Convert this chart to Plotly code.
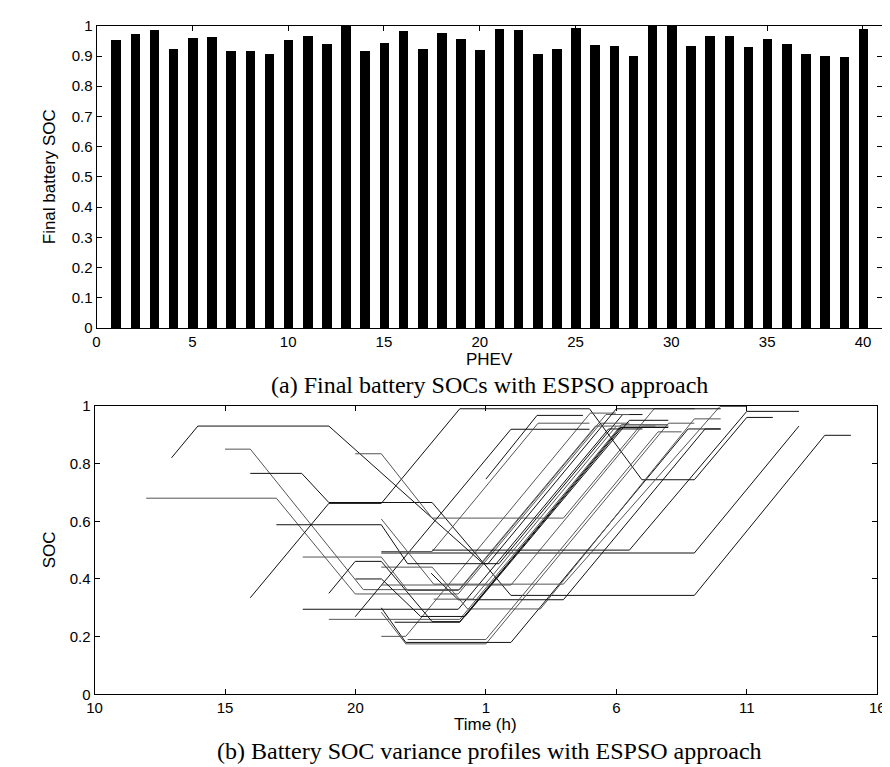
import plotly.graph_objects as go

# ---------------- data: panel (a) ----------------
phev_ids = list(range(1, 41))
final_soc = [0.955, 0.973, 0.987, 0.923, 0.959, 0.962, 0.918, 0.918, 0.908, 0.955,
             0.967, 0.941, 1.000, 0.918, 0.944, 0.982, 0.923, 0.978, 0.956, 0.920,
             0.991, 0.988, 0.908, 0.923, 0.994, 0.937, 0.933, 0.901, 1.000, 1.000,
             0.935, 0.967, 0.967, 0.930, 0.956, 0.941, 0.906, 0.901, 0.898, 0.991]
a_xticks = [0, 5, 10, 15, 20, 25, 30, 35, 40]
a_yticks = [0, 0.1, 0.2, 0.3, 0.4, 0.5, 0.6, 0.7, 0.8, 0.9, 1]
a_yticklabels = ["0", "0.1", "0.2", "0.3", "0.4", "0.5", "0.6", "0.7", "0.8", "0.9", "1"]

# ---------------- data: panel (b) (hour, SOC) breakpoints ----------------
ev01 = [(12.95, 0.82), (13.96, 0.93), (18.98, 0.93), (24.9, 0.453), (25.5, 0.453), (30.24, 0.97), (31.0, 0.97)]
ev02 = [(15.0, 0.85), (15.97, 0.85), (20.3, 0.363), (24.0, 0.363), (29.6, 0.97), (30.5, 0.97)]
ev03 = [(15.97, 0.766), (17.94, 0.766), (18.98, 0.665), (22.94, 0.665), (25.96, 0.343), (32.99, 0.343), (37.99, 0.898), (38.99, 0.898)]
ev04 = [(11.98, 0.68), (16.97, 0.68), (19.99, 0.348), (23.94, 0.348), (29.4, 0.94), (30.5, 0.94)]
ev05 = [(15.97, 0.335), (18.98, 0.662), (20.99, 0.662), (24.0, 0.99), (28.97, 0.99), (30.98, 0.744), (32.99, 0.744), (35.0, 0.96), (36.0, 0.96)]
ev06 = [(19.99, 0.834), (20.99, 0.834), (22.94, 0.611), (27.97, 0.611), (31.45, 0.99), (33.0, 0.99)]
ev07 = [(20.99, 0.49), (32.99, 0.49), (37.0, 0.93)]
ev08 = [(20.99, 0.285), (21.93, 0.175), (25.0, 0.175), (32.0, 0.94), (32.99, 0.94)]
ev09 = [(20.99, 0.30), (21.93, 0.18), (25.96, 0.18), (32.75, 0.92), (34.0, 0.92)]
ev10 = [(18.98, 0.26), (24.0, 0.26), (30.2, 0.935), (31.99, 0.935)]
ev11 = [(18.98, 0.35), (19.99, 0.461), (20.99, 0.461), (22.94, 0.252), (24.0, 0.252), (30.15, 0.925), (31.5, 0.925)]
ev12 = [(20.99, 0.201), (21.93, 0.201), (29.0, 0.975), (29.98, 0.975)]
ev13 = [(17.98, 0.295), (23.94, 0.295), (29.7, 0.92), (31.0, 0.92)]
ev14 = [(20.99, 0.441), (22.94, 0.441), (24.3, 0.296), (27.09, 0.296), (32.99, 0.955), (34.0, 0.955)]
ev15 = [(19.99, 0.269), (25.96, 0.919), (28.97, 0.919)]
ev16 = [(20.99, 0.379), (25.96, 0.379), (31.0, 0.93), (32.0, 0.93)]
ev17 = [(22.9, 0.42), (23.94, 0.328), (27.97, 0.328), (33.4, 0.92), (34.0, 0.92)]
ev18 = [(20.99, 0.608), (23.0, 0.382), (27.97, 0.382), (33.97, 0.998), (35.0, 0.998)]
ev19 = [(16.97, 0.588), (20.99, 0.588), (22.0, 0.453), (25.08, 0.453), (30.0, 0.99), (34.0, 0.99)]
ev20 = [(20.99, 0.495), (22.94, 0.495), (27.0, 0.94), (28.97, 0.94)]
ev21 = [(25.0, 0.746), (26.96, 0.967), (28.72, 0.967)]
ev22 = [(17.98, 0.476), (20.99, 0.476), (22.0, 0.36), (23.94, 0.36), (29.2, 0.93), (30.0, 0.93)]
ev23 = [(22.94, 0.50), (30.5, 0.50), (35.0, 0.981), (37.0, 0.981)]
ev24 = [(22.0, 0.19), (25.0, 0.19), (31.6, 0.91), (32.5, 0.91)]
ev25 = [(21.5, 0.25), (24.0, 0.25), (30.2, 0.925), (31.99, 0.925)]
ev26 = [(23.0, 0.33), (24.5, 0.33), (30.0, 0.93), (31.5, 0.93)]
ev27 = [(20.0, 0.40), (21.0, 0.40), (22.5, 0.27), (24.2, 0.27), (30.5, 0.95), (31.99, 0.95)]
profiles = [ev01, ev02, ev03, ev04, ev05, ev06, ev07, ev08, ev09, ev10, ev11, ev12, ev13, ev14,
            ev15, ev16, ev17, ev18, ev19, ev20, ev21, ev22, ev23, ev24, ev25, ev26, ev27]
line_colors = ["#111111", "#555555"]

b_xticks = [10, 15, 20, 25, 30, 35, 40]
b_xticklabels = ["10", "15", "20", "1", "6", "11", "16"]
b_yticks = [0, 0.2, 0.4, 0.6, 0.8, 1]
b_yticklabels = ["0", "0.2", "0.4", "0.6", "0.8", "1"]

# ---------------- figure ----------------
W, H = 890, 767
def fx(px):
    return px / W
def fy(py):
    return 1 - py / H

fig = go.Figure()
fig.add_trace(go.Bar(x=phev_ids, y=final_soc, width=0.5, marker=dict(color="black", line=dict(width=0)),
                     xaxis="x", yaxis="y", showlegend=False))
for i, prof in enumerate(profiles):
    fig.add_trace(go.Scatter(x=[p[0] for p in prof], y=[p[1] for p in prof], mode="lines",
                             line=dict(color=line_colors[i % 2], width=1),
                             xaxis="x2", yaxis="y2", showlegend=False))

tickfont = dict(family="Liberation Sans, Arial", size=15, color="black")
axcommon = dict(showline=True, linecolor="black", linewidth=1, mirror="ticks", ticks="inside",
                ticklen=5, tickcolor="black", showgrid=False, zeroline=False, tickfont=tickfont)

fig.update_layout(
    width=W, height=H, margin=dict(l=0, r=0, t=0, b=0),
    paper_bgcolor="white", plot_bgcolor="white",
    bargap=0,
    xaxis=dict(domain=[fx(82), fx(882)], range=[0, 41], tickvals=a_xticks, anchor="y", **axcommon),
    yaxis=dict(domain=[fy(318), fy(9)], range=[0, 1], tickvals=a_yticks, ticktext=a_yticklabels,
               anchor="x", **axcommon),
    xaxis2=dict(domain=[fx(80), fx(877)], range=[10, 40], tickvals=b_xticks, ticktext=b_xticklabels,
                anchor="y2", **axcommon),
    yaxis2=dict(domain=[fy(692.7), fy(397.7)], range=[0, 1], tickvals=b_yticks, ticktext=b_yticklabels,
                anchor="x2", **axcommon),
)

titlefont = dict(family="Liberation Sans, Arial", size=17, color="black")
capfont = dict(family="Liberation Serif, Times New Roman", size=24, color="black")
ann = [
    dict(text="Final battery SOC", x=fx(35), y=fy(163.5), textangle=-90, font=titlefont),
    dict(text="PHEV", x=fx(482), y=fy(350), font=titlefont),
    dict(text="(a) Final battery SOCs with ESPSO approach", x=fx(482), y=fy(376), font=capfont),
    dict(text="SOC", x=fx(35), y=fy(545), textangle=-90, font=titlefont),
    dict(text="Time (h)", x=fx(478), y=fy(724), font=titlefont),
    dict(text="(b) Battery SOC variance profiles with ESPSO approach", x=fx(482), y=fy(751), font=capfont),
]
for a in ann:
    fig.add_annotation(xref="paper", yref="paper", showarrow=False, xanchor="center", yanchor="middle", **a)

fig.write_html("out.html")
